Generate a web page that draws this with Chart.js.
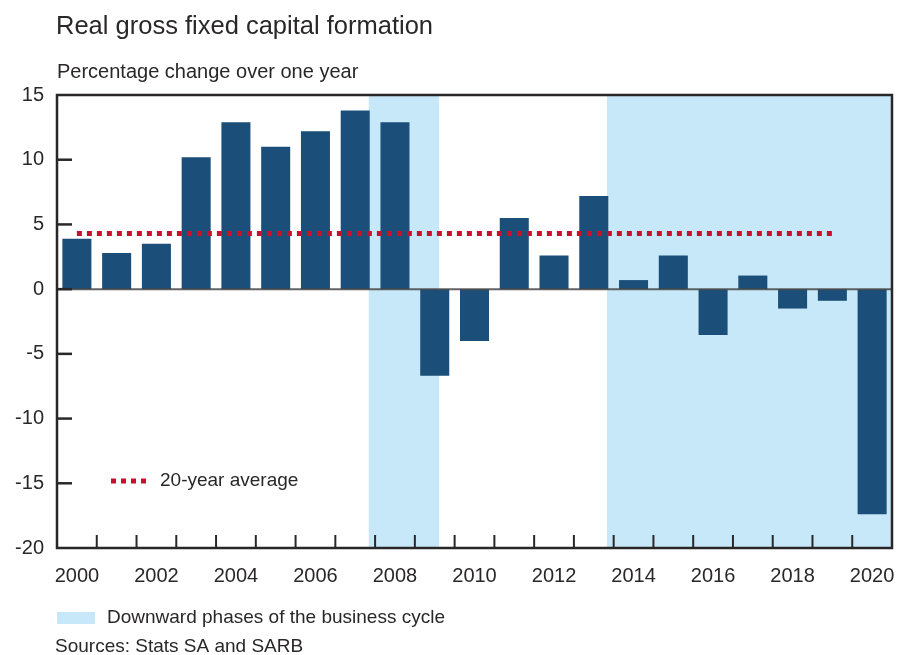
<!DOCTYPE html>
<html>
<head>
<meta charset="utf-8">
<script src="https://cdn.jsdelivr.net/npm/chart.js@4/dist/chart.umd.min.js"></script>
<style>
  html, body { margin: 0; padding: 0; background: #fff; }
  canvas { display: block; }
</style>
</head>
<body>
<canvas id="chart" width="897" height="655"></canvas>
<script>
// data
const years = ['2000', '2001', '2002', '2003', '2004', '2005', '2006', '2007', '2008', '2009', '2010',
               '2011', '2012', '2013', '2014', '2015', '2016', '2017', '2018', '2019', '2020'];
const gfcf = [3.9, 2.8, 3.5, 10.2, 12.9, 11.0, 12.2, 13.8, 12.9, -6.7, -4.0,
              5.5, 2.6, 7.2, 0.7, 2.6, -3.55, 1.05, -1.5, -0.9, -17.4];
const average = 4.3;
const averageFrom = '2000';
const averageTo = '2019';
// downward phases, in years (year start = left edge of its bar slot)
const phaseStart = [2007.84, 2013.83];
const phaseEnd = [2009.61, 2021];
const yMin = -20, yMax = 15, yStep = 5;

const ink = '#2a2728';
const barColor = '#1b4e79';
const shadeColor = '#c7e8f8';
const avgColor = '#c8102e';
const font = '"Liberation Sans", Arial, sans-serif';

const decor = {
  id: 'decor',
  beforeDatasetsDraw(chart) {
    const ctx = chart.ctx, ca = chart.chartArea, x = chart.scales.x;
    ctx.save();
    ctx.fillStyle = shadeColor;
    for (let i = 0; i < phaseStart.length; i++) {
      let a = x.getPixelForValue(phaseStart[i] - 2000 - 0.5);
      let b = x.getPixelForValue(phaseEnd[i] - 2000 - 0.5);
      a = Math.max(a, ca.left); b = Math.min(b, ca.right);
      ctx.fillRect(a, ca.top, b - a, ca.bottom - ca.top);
    }
    ctx.restore();
  },
  afterDatasetsDraw(chart) {
    const ctx = chart.ctx, ca = chart.chartArea, x = chart.scales.x, y = chart.scales.y;
    ctx.save();
    // zero line
    const y0 = y.getPixelForValue(0);
    ctx.strokeStyle = 'rgba(70,70,70,0.85)';
    ctx.lineWidth = 2;
    ctx.beginPath(); ctx.moveTo(ca.left, y0); ctx.lineTo(ca.right, y0); ctx.stroke();

    // frame
    ctx.strokeStyle = ink;
    ctx.lineWidth = 2.5;
    ctx.strokeRect(ca.left, ca.top, ca.right - ca.left, ca.bottom - ca.top);

    // inward ticks on y
    for (let v = yMin + yStep; v < yMax; v += yStep) {
      const py = y.getPixelForValue(v);
      ctx.beginPath(); ctx.moveTo(ca.left, py); ctx.lineTo(ca.left + 15, py); ctx.stroke();
    }
    // inward ticks on x, between the bars
    ctx.lineWidth = 2;
    for (let i = 0; i < years.length - 1; i++) {
      const px = x.getPixelForValue(i + 0.5);
      ctx.beginPath(); ctx.moveTo(px, ca.bottom); ctx.lineTo(px, ca.bottom - 13); ctx.stroke();
    }

    // in-plot key for the average line
    const ky = ca.top + 386;
    ctx.strokeStyle = avgColor;
    ctx.lineWidth = 5;
    ctx.setLineDash([5, 5]);
    ctx.beginPath(); ctx.moveTo(ca.left + 54, ky); ctx.lineTo(ca.left + 94, ky); ctx.stroke();
    ctx.setLineDash([]);
    ctx.fillStyle = ink;
    ctx.font = '19px ' + font;
    ctx.textBaseline = 'middle';
    ctx.fillText('20-year average', ca.left + 103, ky);
    ctx.restore();
  },
  afterDraw(chart) {
    const ctx = chart.ctx;
    ctx.save();
    ctx.fillStyle = ink;
    ctx.textBaseline = 'middle';
    ctx.font = '25.5px ' + font;
    ctx.fillText('Real gross fixed capital formation', 56, 27);
    ctx.font = '20px ' + font;
    ctx.fillText('Percentage change over one year', 57, 72);

    ctx.fillStyle = shadeColor;
    ctx.fillRect(57, 612, 38, 12);
    ctx.fillStyle = ink;
    ctx.font = '19px ' + font;
    ctx.fillText('Downward phases of the business cycle', 107, 618);
    ctx.fillText('Sources: Stats SA and SARB', 55, 647);
    ctx.restore();
  }
};

new Chart(document.getElementById('chart').getContext('2d'), {
  data: {
    labels: years,
    datasets: [
      {
        type: 'line',
        data: [{x: averageFrom, y: average}, {x: averageTo, y: average}],
        borderColor: avgColor,
        borderWidth: 5,
        borderDash: [5, 5],
        borderCapStyle: 'butt',
        pointRadius: 0,
        fill: false,
        order: 0
      },
      {
        type: 'bar',
        data: gfcf,
        backgroundColor: barColor,
        borderWidth: 0,
        barPercentage: 0.73,
        categoryPercentage: 1.0,
        order: 1
      }
    ]
  },
  options: {
    responsive: false,
    animation: false,
    layout: { padding: { left: 0, right: 5, top: 95, bottom: 57 } },
    plugins: {
      legend: { display: false },
      tooltip: { enabled: false }
    },
    scales: {
      x: {
        type: 'category',
        offset: true,
        grid: { display: false, drawTicks: false },
        border: { display: false },
        ticks: {
          autoSkip: false,
          maxRotation: 0,
          padding: 16,
          color: ink,
          font: { family: font, size: 20 },
          callback: function (v, i) { return i % 2 === 0 ? years[i] : ''; }
        },
        afterFit(scale) {
          scale.height = 50;
          scale.paddingLeft = 0;
          scale.paddingRight = 0;
        }
      },
      y: {
        min: yMin,
        max: yMax,
        grid: { display: false, drawTicks: false },
        border: { display: false },
        ticks: {
          stepSize: yStep,
          padding: 13,
          color: ink,
          font: { family: font, size: 20 }
        },
        afterFit(scale) {
          scale.width = 57;
          scale.paddingTop = 0;
          scale.paddingBottom = 0;
        }
      }
    }
  },
  plugins: [decor]
});
</script>
</body>
</html>
